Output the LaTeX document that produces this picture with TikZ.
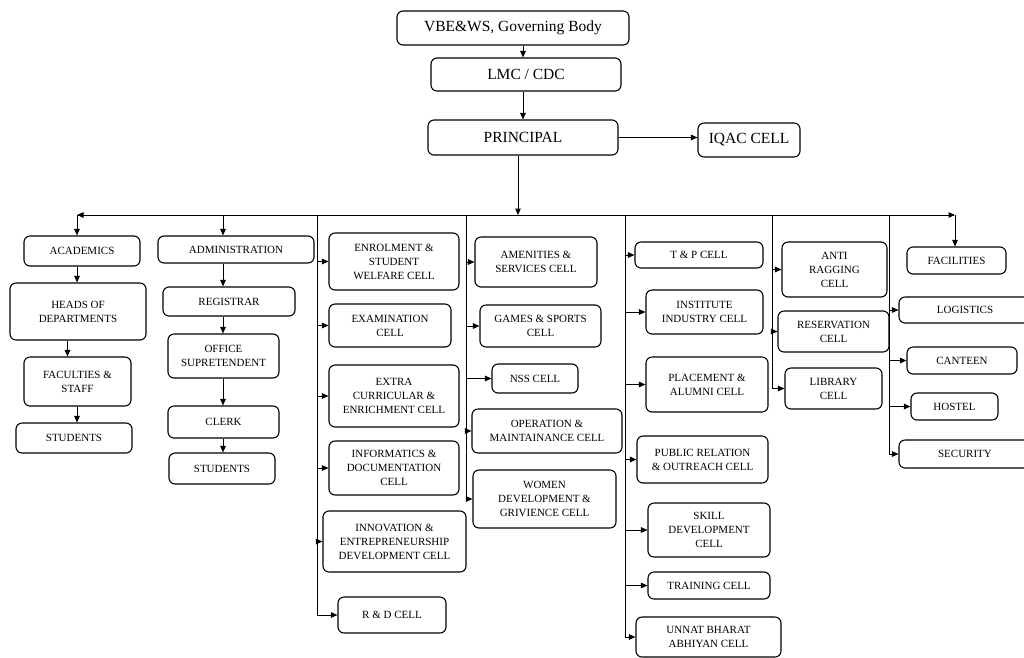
\documentclass[tikz,border=0pt]{standalone}
\usepackage{fontspec}
\setmainfont{Liberation Serif}
\usepackage{tikz}
\usetikzlibrary{arrows.meta, positioning}
\tikzset{
	cell/.style  ={rectangle, rounded corners=6pt, draw=black, line width=1.1pt, align=center, inner sep=1pt, font=\fontsize{11}{14}\selectfont},
	topbox/.style={cell, font=\fontsize{15.5}{18}\selectfont},
	% connector styles
	sig/.style   ={-{Triangle[length=6.5pt,width=5.5pt]}, line width=1pt},
	rail/.style  ={line width=1pt},
}
\begin{document}
\begin{tikzpicture}[x=1pt, y=-1pt]
	\useasboundingbox (0,0) rectangle (1024,657);
	% top of the chart
	\node[topbox, minimum width=232, minimum height=34] (vbe)  at (513,28)    {VBE\&WS, Governing Body};
	\node[topbox, minimum width=190, minimum height=33] (lmc)  at (526,74.5)  {LMC / CDC};
	\node[topbox, minimum width=190, minimum height=35] (prin) at (523,137.5) {PRINCIPAL};
	\node[topbox, minimum width=102, minimum height=34] (iqac) at (749,140)   {IQAC CELL};
	\draw[sig] (vbe.south -| prin.north) -- (lmc.north -| prin.north);
	\draw[sig] (lmc.south -| prin.north) -- (prin.north);
	\draw[sig] (prin.east) -- (prin.east -| iqac.west);
	% bus and drops
	\coordinate (bM) at (518,215);
	\coordinate (bL) at (77,215);
	\coordinate (bR) at (955,215);
	\coordinate (dA) at (223,215);
	\coordinate (r1) at (317,215);
	\coordinate (r2) at (466,215);
	\coordinate (r3) at (625,215);
	\coordinate (r4) at (772,215);
	\coordinate (r5) at (889,215);
	\draw[sig] (prin.south -| bM) -- (bM);
	\draw[sig] (bM) -- (bL);
	\draw[sig] (bM) -- (bR);
	% academics
	\node[cell, minimum width=116, minimum height=30] (acad) at (82,251)     {ACADEMICS};
	\node[cell, minimum width=136, minimum height=57] (hod)  at (78,311.5)   {HEADS OF\\DEPARTMENTS};
	\node[cell, minimum width=107, minimum height=49] (fac)  at (77.5,381.5) {FACULTIES \&\\STAFF};
	\node[cell, minimum width=116, minimum height=30] (stuA) at (74,438)     {STUDENTS};
	\draw[sig] (bL) -- (bL |- acad.north);
	\draw[sig] (acad.south -| bL) -- (hod.north -| bL);
	\draw[sig] ([xshift=-10pt]hod.south -| fac.north) -- ([xshift=-10pt]fac.north);
	\draw[sig] (fac.south -| bL) -- (stuA.north -| bL);
	% administration
	\node[cell, minimum width=156, minimum height=27] (adm)   at (236,249.5) {ADMINISTRATION};
	\node[cell, minimum width=132, minimum height=29] (reg)   at (229,301.5) {REGISTRAR};
	\node[cell, minimum width=111, minimum height=44] (off)   at (223.5,356) {OFFICE\\SUPRETENDENT};
	\node[cell, minimum width=111, minimum height=32] (clerk) at (223.5,422) {CLERK};
	\node[cell, minimum width=106, minimum height=31] (stuB)  at (222,468.5) {STUDENTS};
	\draw[sig] (dA) -- (dA |- adm.north);
	\draw[sig] (adm.south -| dA) -- (reg.north -| dA);
	\draw[sig] (reg.south -| dA) -- (off.north -| dA);
	\draw[sig] (off.south -| dA) -- (clerk.north -| dA);
	\draw[sig] (clerk.south -| dA) -- (stuB.north -| dA);
	% first cell column
	\node[cell, minimum width=130, minimum height=57] (enrol) at (394,261.5) {ENROLMENT \&\\STUDENT\\WELFARE CELL};
	\node[cell, minimum width=122, minimum height=43] (exam)  at (390,325.5) {EXAMINATION\\CELL};
	\node[cell, minimum width=130, minimum height=62] (extra) at (394,396)   {EXTRA\\CURRICULAR \&\\ENRICHMENT CELL};
	\node[cell, minimum width=130, minimum height=54] (info)  at (394,468)   {INFORMATICS \&\\DOCUMENTATION\\CELL};
	\node[cell, minimum width=143, minimum height=61] (innov) at (394.5,541.5) {INNOVATION \&\\ENTREPRENEURSHIP\\DEVELOPMENT CELL};
	\node[cell, minimum width=108, minimum height=36] (rnd)   at (392,615)   {R \& D CELL};
	\draw[rail] (r1) -- (r1 |- rnd.west);
	\foreach \n in {enrol,exam,extra,info,innov,rnd}
		\draw[sig] (r1 |- \n.west) -- (\n.west);
	% second cell column
	\node[cell, minimum width=122, minimum height=50] (amen)  at (536,262)   {AMENITIES \&\\SERVICES CELL};
	\node[cell, minimum width=121, minimum height=42] (games) at (540.5,326) {GAMES \& SPORTS\\CELL};
	\node[cell, minimum width=86, minimum height=29]  (nss)   at (535,378.5) {NSS CELL};
	\node[cell, minimum width=150, minimum height=44] (oper)  at (547,431)   {OPERATION \&\\MAINTAINANCE CELL};
	\node[cell, minimum width=143, minimum height=58] (women) at (544.5,499) {WOMEN\\DEVELOPMENT \&\\GRIVIENCE CELL};
	\draw[rail] (r2) -- (r2 |- women.west);
	\foreach \n in {amen,games,nss,oper,women}
		\draw[sig] (r2 |- \n.west) -- (\n.west);
	% third cell column
	\node[cell, minimum width=128, minimum height=26] (tp)    at (699,255)   {T \& P CELL};
	\node[cell, minimum width=117, minimum height=44] (inst)  at (704.5,312) {INSTITUTE\\INDUSTRY CELL};
	\node[cell, minimum width=122, minimum height=55] (place) at (707,384.5) {PLACEMENT \&\\ALUMNI CELL};
	\node[cell, minimum width=131, minimum height=47] (pr)    at (702.5,459.5) {PUBLIC RELATION\\\& OUTREACH CELL};
	\node[cell, minimum width=122, minimum height=54] (skill) at (709,530)   {SKILL\\DEVELOPMENT\\CELL};
	\node[cell, minimum width=122, minimum height=27] (train) at (709,585.5) {TRAINING CELL};
	\node[cell, minimum width=145, minimum height=40] (unnat) at (708.5,637) {UNNAT BHARAT\\ABHIYAN CELL};
	\draw[rail] (r3) -- (r3 |- unnat.west);
	\foreach \n in {tp,inst,place,pr,skill,train,unnat}
		\draw[sig] (r3 |- \n.west) -- (\n.west);
	% fourth cell column
	\node[cell, minimum width=105, minimum height=55] (anti) at (834.5,269.5) {ANTI\\RAGGING\\CELL};
	\node[cell, minimum width=111, minimum height=41] (resv) at (833.5,331.5) {RESERVATION\\CELL};
	\node[cell, minimum width=97, minimum height=41]  (lib)  at (833.5,388.5) {LIBRARY\\CELL};
	\draw[rail] (r4) -- (r4 |- lib.west);
	\foreach \n in {anti,resv,lib}
		\draw[sig] (r4 |- \n.west) -- (\n.west);
	% facilities
	\node[cell, minimum width=99, minimum height=27]  (facil) at (956.5,260.5) {FACILITIES};
	\node[cell, minimum width=132, minimum height=26] (logi)  at (965,310)    {LOGISTICS};
	\node[cell, minimum width=110, minimum height=27] (cant)  at (962,360.5)  {CANTEEN};
	\node[cell, minimum width=87, minimum height=27]  (host)  at (954.5,406.5) {HOSTEL};
	\node[cell, minimum width=132, minimum height=28] (secu)  at (965,454)    {SECURITY};
	\draw[sig] (bR) -- (bR |- facil.north);
	\draw[rail] (r5) -- (r5 |- secu.west);
	\foreach \n in {logi,cant,host,secu}
		\draw[sig] (r5 |- \n.west) -- (\n.west);
\end{tikzpicture}
\end{document}
